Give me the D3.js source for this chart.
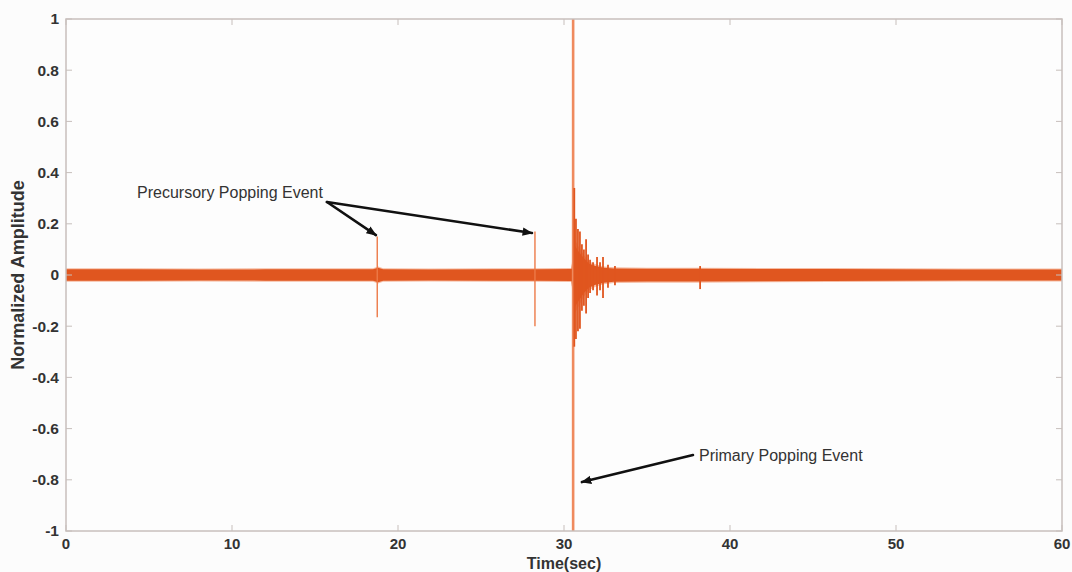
<!DOCTYPE html>
<html>
<head>
<meta charset="utf-8">
<script src="https://cdn.jsdelivr.net/npm/d3@7"></script>
<style>
  html, body { margin: 0; padding: 0; background: #fcfcfc; }
  svg { display: block; }
</style>
</head>
<body>
<svg id="chart" width="1072" height="572"></svg>
<script>
// ---- Data ----
const xTicks = [0, 10, 20, 30, 40, 50, 60];
const yTicks = [-1, -0.8, -0.6, -0.4, -0.2, 0, 0.2, 0.4, 0.6, 0.8, 1];
const yTickLabels = ["-1", "-0.8", "-0.6", "-0.4", "-0.2", "0", "0.2", "0.4", "0.6", "0.8", "1"];

// Background noise band envelope (time in sec, amplitude)
const bandTime  = [0, 4, 8, 12, 16, 18.5, 18.8, 19.1, 22, 26, 28.1, 28.4, 30.45, 30.6, 30.9, 31.2, 31.5, 31.9, 32.4, 33.0, 35, 38, 42, 46, 50, 54, 58, 60];
const bandUpper = [0.022, 0.022, 0.021, 0.022, 0.022, 0.022, 0.028, 0.022, 0.021, 0.022, 0.022, 0.022, 0.023, 0.12, 0.09, 0.065, 0.045, 0.035, 0.028, 0.025, 0.024, 0.024, 0.023, 0.023, 0.022, 0.021, 0.021, 0.021];
const bandLower = [-0.022, -0.022, -0.021, -0.022, -0.022, -0.022, -0.028, -0.022, -0.021, -0.022, -0.022, -0.022, -0.023, -0.13, -0.1, -0.07, -0.05, -0.038, -0.03, -0.026, -0.025, -0.025, -0.024, -0.023, -0.022, -0.021, -0.021, -0.021];

// Discrete spikes (time, max, min)
const spikeTime = [18.75, 28.25, 30.55, 30.62, 30.72, 30.84, 30.96, 31.08, 31.2, 31.33, 31.45, 31.57, 31.75, 31.99, 32.17, 32.35, 32.65, 33.07, 38.2];
const spikeMax  = [0.15, 0.17, 1.0, 0.34, 0.22, 0.18, 0.17, 0.12, 0.10, 0.14, 0.08, 0.06, 0.05, 0.07, 0.05, 0.07, 0.04, 0.035, 0.035];
const spikeMin  = [-0.165, -0.2, -1.0, -0.28, -0.25, -0.22, -0.21, -0.14, -0.12, -0.15, -0.09, -0.07, -0.06, -0.08, -0.06, -0.09, -0.05, -0.04, -0.055];

// Annotations (data coordinates)
const annoTexts = ["Precursory Popping Event", "Primary Popping Event"];
const annoTextPos = [[4.28, 0.30], [38.13, -0.725]];
const arrowFrom = [[15.72, 0.285], [15.72, 0.285], [37.77, -0.703]];
const arrowTo   = [[18.67, 0.156], [28.07, 0.164], [31.08, -0.809]];

// ---- Layout ----
const W = 1072, H = 572;
const mLeft = 66, mRight = 1062, mTop = 19, mBottom = 531;
const svg = d3.select("#chart");

const x = d3.scaleLinear().domain([0, 60]).range([mLeft, mRight]);
const y = d3.scaleLinear().domain([-1, 1]).range([mBottom, mTop]);

svg.append("rect").attr("x", 0).attr("y", 0).attr("width", W).attr("height", H).attr("fill", "#fcfcfc");
svg.append("rect").attr("x", mLeft).attr("y", mTop).attr("width", mRight - mLeft).attr("height", mBottom - mTop).attr("fill", "#fdfdfd");

const signalColor = "#e0561f";
const spikeColor = "#ec7a48";

// Noise band (soft fringe + core)
const bandData = bandTime.map((t, i) => ({ t, hi: bandUpper[i], lo: bandLower[i] }));
const fringe = d3.area().x(d => x(d.t)).y0(d => y(d.lo * 1.2)).y1(d => y(d.hi * 1.2));
const core = d3.area().x(d => x(d.t)).y0(d => y(d.lo)).y1(d => y(d.hi));
svg.append("path").datum(bandData).attr("d", fringe).attr("fill", "#f2a07c").attr("opacity", 0.7);
svg.append("path").datum(bandData).attr("d", core).attr("fill", signalColor);

// Spikes
const spikes = spikeTime.map((t, i) => ({ t, hi: spikeMax[i], lo: spikeMin[i], i }));
svg.append("g").selectAll("line").data(spikes).join("line")
  .attr("x1", d => x(d.t)).attr("x2", d => x(d.t))
  .attr("y1", d => y(d.hi)).attr("y2", d => y(d.lo))
  .attr("stroke", d => (d.i === 2 ? "#ef8a5e" : (d.i < 2 ? spikeColor : signalColor)))
  .attr("stroke-width", d => (d.i === 2 ? 2.6 : (d.i < 2 ? 1.4 : 1.8)));

// Axes box
const axisColor = "#c7bfbc";
svg.append("rect").attr("x", mLeft).attr("y", mTop).attr("width", mRight - mLeft).attr("height", mBottom - mTop)
  .attr("fill", "none").attr("stroke", axisColor).attr("stroke-width", 1.5);

const tickLen = 6;
const tg = svg.append("g").attr("stroke", axisColor).attr("stroke-width", 1);
yTicks.forEach(v => {
  tg.append("line").attr("x1", mLeft).attr("x2", mLeft + tickLen).attr("y1", y(v)).attr("y2", y(v));
  tg.append("line").attr("x1", mRight).attr("x2", mRight - tickLen).attr("y1", y(v)).attr("y2", y(v));
});
xTicks.forEach(v => {
  tg.append("line").attr("x1", x(v)).attr("x2", x(v)).attr("y1", mBottom).attr("y2", mBottom - tickLen);
  tg.append("line").attr("x1", x(v)).attr("x2", x(v)).attr("y1", mTop).attr("y2", mTop + tickLen);
});

const font = "'Liberation Sans', Arial, Helvetica, sans-serif";
const textColor = "#333";

// Y tick labels
svg.append("g").selectAll("text").data(yTicks).join("text")
  .attr("x", mLeft - 7).attr("y", d => y(d)).attr("dy", "0.35em")
  .attr("text-anchor", "end").attr("font-family", font).attr("font-weight", "bold")
  .attr("font-size", 15.5).attr("fill", textColor)
  .text((d, i) => yTickLabels[i]);

// X tick labels
svg.append("g").selectAll("text").data(xTicks).join("text")
  .attr("x", d => x(d)).attr("y", 549)
  .attr("text-anchor", "middle").attr("font-family", font).attr("font-weight", "bold")
  .attr("font-size", 15).attr("fill", textColor)
  .text(d => d);

// Axis titles
svg.append("text").attr("x", (mLeft + mRight) / 2).attr("y", 568.5)
  .attr("text-anchor", "middle").attr("font-family", font).attr("font-weight", "bold")
  .attr("font-size", 16).attr("fill", textColor).text("Time(sec)");
svg.append("text").attr("transform", `translate(24, ${(mTop + mBottom) / 2}) rotate(-90)`)
  .attr("text-anchor", "middle").attr("font-family", font).attr("font-weight", "bold")
  .attr("font-size", 18).attr("fill", textColor).text("Normalized Amplitude");

// Annotations
svg.append("defs").append("marker")
  .attr("id", "ah").attr("viewBox", "0 0 10 10").attr("refX", 9).attr("refY", 5)
  .attr("markerWidth", 4).attr("markerHeight", 4).attr("orient", "auto")
  .append("path").attr("d", "M0,1 L10,5 L0,9 Z").attr("fill", "#111");

svg.append("g").selectAll("line").data(arrowFrom).join("line")
  .attr("x1", d => x(d[0])).attr("y1", d => y(d[1]))
  .attr("x2", (d, i) => x(arrowTo[i][0])).attr("y2", (d, i) => y(arrowTo[i][1]))
  .attr("stroke", "#111").attr("stroke-width", 2.6).attr("stroke-linecap", "round")
  .attr("marker-end", "url(#ah)");

svg.append("g").selectAll("text").data(annoTexts).join("text")
  .attr("x", (d, i) => x(annoTextPos[i][0])).attr("y", (d, i) => y(annoTextPos[i][1]))
  .attr("font-family", font).attr("font-size", 16).attr("fill", textColor)
  .text(d => d);
</script>
</body>
</html>
